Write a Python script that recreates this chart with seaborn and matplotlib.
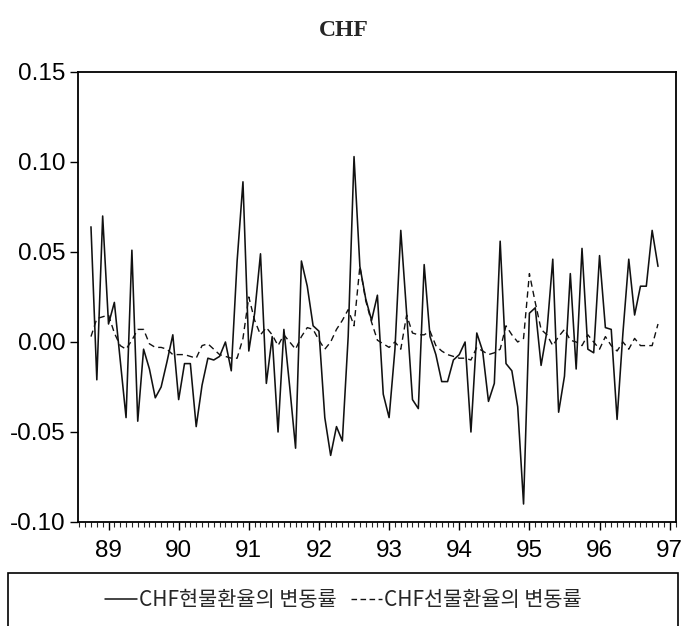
import numpy as np
import pandas as pd
import matplotlib
matplotlib.use("Agg")
import matplotlib.pyplot as plt
from matplotlib.patches import Rectangle
from matplotlib.lines import Line2D
from matplotlib.ticker import FixedLocator, MultipleLocator, FuncFormatter
import seaborn as sns

# ---- data (monthly, Oct 1988 .. Nov 1996) ----
start_year = 1988.75
spot = [0.064, -0.021, 0.070, 0.010, 0.022, -0.010, -0.042, 0.051, -0.044, -0.004,
        -0.015, -0.031, -0.025, -0.011, 0.004, -0.032, -0.012, -0.012, -0.047, -0.024,
        -0.009, -0.010, -0.008, 0.000, -0.016, 0.045, 0.089, -0.005, 0.016, 0.049,
        -0.023, 0.003, -0.050, 0.007, -0.025, -0.059, 0.045, 0.031, 0.009, 0.006,
        -0.042, -0.063, -0.047, -0.055, 0.003, 0.103, 0.042, 0.024, 0.012, 0.026,
        -0.029, -0.042, -0.004, 0.062, 0.016, -0.032, -0.037, 0.043, 0.003, -0.007,
        -0.022, -0.022, -0.010, -0.007, 0.000, -0.050, 0.005, -0.005, -0.033, -0.023,
        0.056, -0.012, -0.016, -0.036, -0.090, 0.016, 0.019, -0.013, 0.006, 0.046,
        -0.039, -0.019, 0.038, -0.015, 0.052, -0.004, -0.006, 0.048, 0.008, 0.007,
        -0.043, 0.005, 0.046, 0.015, 0.031, 0.031, 0.062, 0.042]
forward = [0.003, 0.013, 0.014, 0.015, 0.005, -0.002, -0.004, 0.001, 0.007, 0.007,
           -0.001, -0.003, -0.003, -0.004, -0.007, -0.007, -0.007, -0.008, -0.009, -0.002,
           -0.001, -0.004, -0.007, -0.008, -0.009, -0.009, 0.002, 0.025, 0.012, 0.004,
           0.008, 0.004, -0.002, 0.004, 0.000, -0.004, 0.003, 0.008, 0.007, 0.001,
           -0.004, 0.000, 0.007, 0.012, 0.018, 0.009, 0.042, 0.023, 0.011, 0.001,
           -0.001, -0.003, 0.000, -0.004, 0.015, 0.005, 0.004, 0.004, 0.006, -0.002,
           -0.005, -0.007, -0.008, -0.009, -0.009, -0.010, -0.003, -0.005, -0.007, -0.006,
           -0.004, 0.009, 0.004, 0.000, 0.002, 0.038, 0.022, 0.007, 0.004, -0.002,
           0.003, 0.007, 0.001, 0.000, -0.002, 0.004, 0.000, -0.004, 0.003, -0.002,
           -0.005, 0.000, -0.004, 0.002, -0.002, -0.002, -0.002, 0.010]
year_ticks = [1989, 1990, 1991, 1992, 1993, 1994, 1995, 1996, 1997]
year_labels = ["89", "90", "91", "92", "93", "94", "95", "96", "97"]
y_ticks = [-0.10, -0.05, 0.00, 0.05, 0.10, 0.15]
title = "CHF"
spot_label = "CHF현물환율의 변동률"
fwd_label = "CHF선물환율의 변동률"

t = start_year + np.arange(len(spot)) / 12.0
df = pd.DataFrame({"t": t, "spot": spot, "forward": forward})

sns.set_style("ticks")
plt.rcParams["font.family"] = ["Liberation Sans", "DejaVu Sans"]
plt.rcParams["axes.unicode_minus"] = False

fig = plt.figure(figsize=(6.87, 6.26), dpi=100)
ax = fig.add_axes([78 / 687, 1 - 522 / 626, (676 - 78) / 687, (522 - 72) / 626])

sns.lineplot(data=df, x="t", y="spot", ax=ax, color="#111111", linewidth=1.15)
sns.lineplot(data=df, x="t", y="forward", ax=ax, color="#111111", linewidth=1.0,
             linestyle=(0, (4.5, 3)))

ax.set_xlim(1988.565, 1997.09)
ax.set_ylim(-0.10, 0.15)
ax.xaxis.set_major_locator(FixedLocator(year_ticks))
ax.set_xticklabels(year_labels)
ax.xaxis.set_minor_locator(MultipleLocator(1 / 12))
ax.yaxis.set_major_locator(FixedLocator(y_ticks))
ax.yaxis.set_major_formatter(FuncFormatter(lambda v, p: f"{v:.2f}"))
ax.set_xlabel("")
ax.set_ylabel("")
ax.tick_params(axis="both", which="major", labelsize=17.5, direction="out",
               length=6, width=1.0, colors="black")
ax.tick_params(axis="x", which="minor", direction="out", length=3.5, width=0.8)
ax.tick_params(axis="x", which="major", pad=7)
ax.tick_params(axis="y", which="major", pad=3)
for s in ax.spines.values():
    s.set_linewidth(1.3)
    s.set_color("black")

fig.text(0.5, 1 - 31 / 626, title, ha="center", va="center",
         fontsize=17, fontweight="bold", family=["Liberation Serif"])

# legend box
fig.patches.append(Rectangle((8 / 687, -0.02), (678 - 8) / 687, (626 - 573) / 626 + 0.02,
                             transform=fig.transFigure, fill=False,
                             edgecolor="black", linewidth=1.2))
handles = [Line2D([], [], color="#111111", linewidth=1.1),
           Line2D([], [], color="#111111", linewidth=1.0, linestyle=(0, (4, 2.5)))]
fig.legend(handles, [spot_label, fwd_label], loc="center",
           bbox_to_anchor=(0.5, 1 - 600 / 626), ncol=2, frameon=False,
           handlelength=1.5, handletextpad=0.1, columnspacing=0.7,
           prop={"family": ["Noto Sans CJK KR", "DejaVu Sans"], "size": 15})

fig.savefig("out.png", dpi=100)
